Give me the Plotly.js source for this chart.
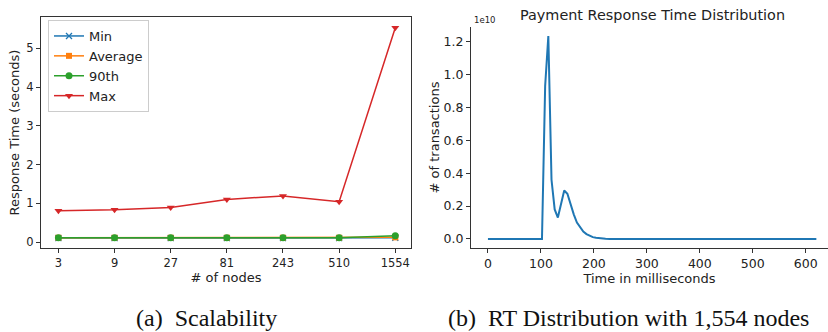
<!DOCTYPE html>
<html>
<head>
<meta charset="utf-8">
<script src="https://cdn.plot.ly/plotly-3.0.1.min.js"></script>
<style>
html,body{margin:0;padding:0;background:#fff;}
#chart{width:828px;height:332px;}
</style>
</head>
<body>
<div id="chart"></div>
<script>
// ---- Data: (a) Scalability ----
const nodes = ["3", "9", "27", "81", "243", "510", "1554"];
const rtMin = [0.10, 0.10, 0.10, 0.10, 0.10, 0.10, 0.11];
const rtAvg = [0.11, 0.11, 0.11, 0.11, 0.11, 0.11, 0.12];
const rt90 = [0.11, 0.11, 0.11, 0.11, 0.11, 0.11, 0.16];
const rtMax = [0.81, 0.83, 0.89, 1.10, 1.19, 1.04, 5.53];

// ---- Data: (b) RT distribution with 1,554 nodes ----
const timeMs = [0, 102, 108, 114, 120, 126, 132, 138, 144, 150, 156, 162, 168, 174, 180, 186, 192, 198, 204, 210, 216, 222, 230, 620];
const txCount = [0, 0, 0.93e10, 1.235e10, 0.36e10, 0.18e10, 0.13e10, 0.21e10, 0.295e10, 0.275e10, 0.21e10, 0.15e10, 0.10e10, 0.07e10, 0.045e10, 0.03e10, 0.018e10, 0.011e10, 0.007e10, 0.004e10, 0.002e10, 0.001e10, 0, 0];
const yTickVals = [0, 0.2e10, 0.4e10, 0.6e10, 0.8e10, 1.0e10, 1.2e10];
const yTickText = ["0.0", "0.2", "0.4", "0.6", "0.8", "1.0", "1.2"];

const C = {blue: "#1f77b4", orange: "#ff7f0e", green: "#2ca02c", red: "#d62728"};
const FONT = "DejaVu Sans, sans-serif";

const traces = [
  {x: nodes, y: rtMin, name: "Min", mode: "lines+markers", xaxis: "x", yaxis: "y",
   line: {color: C.blue, width: 1.5}, marker: {symbol: "x-thin", size: 6, color: C.blue, line: {color: C.blue, width: 1.3}}},
  {x: nodes, y: rtAvg, name: "Average", mode: "lines+markers", xaxis: "x", yaxis: "y",
   line: {color: C.orange, width: 1.5}, marker: {symbol: "square", size: 6, color: C.orange}},
  {x: nodes, y: rt90, name: "90th", mode: "lines+markers", xaxis: "x", yaxis: "y",
   line: {color: C.green, width: 1.5}, marker: {symbol: "circle", size: 7, color: C.green}},
  {x: nodes, y: rtMax, name: "Max", mode: "lines+markers", xaxis: "x", yaxis: "y",
   line: {color: C.red, width: 1.5}, marker: {symbol: "triangle-down", size: 7, color: C.red}},
  {x: timeMs, y: txCount, name: "RT", mode: "lines", xaxis: "x2", yaxis: "y2", showlegend: false,
   line: {color: C.blue, width: 2}}
];

const axBase = {showgrid: false, zeroline: false, showline: true, linecolor: "#333", linewidth: 1,
  ticks: "outside", ticklen: 4, tickwidth: 1, tickcolor: "#333",
  tickfont: {family: FONT, size: 11.5, color: "#222"}};
const rightTick = {family: FONT, size: 12.5, color: "#222"};

const layout = {
  width: 828, height: 332,
  margin: {l: 0, r: 0, t: 0, b: 0},
  paper_bgcolor: "#fff", plot_bgcolor: "#fff",
  font: {family: FONT, color: "#222"},
  showlegend: true,
  legend: {x: 48/828, y: 1 - 20/332, xanchor: "left", yanchor: "top",
    bgcolor: "rgba(255,255,255,0.9)", bordercolor: "#ccc", borderwidth: 1,
    font: {family: FONT, size: 13, color: "#222"}},
  xaxis: Object.assign({}, axBase, {domain: [41/828, 411/828], anchor: "y", type: "category",
    range: [-0.31, 6.28], mirror: true,
    title: {text: "# of nodes", font: {family: FONT, size: 13, color: "#222"}, standoff: 2}}),
  yaxis: Object.assign({}, axBase, {domain: [1 - 248/332, 1 - 17/332], anchor: "x",
    range: [-0.155, 5.81], tickvals: [0, 1, 2, 3, 4, 5], mirror: true,
    title: {text: "Response Time (seconds)", font: {family: FONT, size: 13, color: "#222"}, standoff: 3}}),
  xaxis2: Object.assign({}, axBase, {domain: [471/828, 1.0], anchor: "y2",
    range: [-32, 642], tickvals: [0, 100, 200, 300, 400, 500, 600], tickfont: rightTick,
    title: {text: "Time in milliseconds", font: {family: FONT, size: 13, color: "#222"}, standoff: 1}}),
  yaxis2: Object.assign({}, axBase, {domain: [1 - 248/332, 1 - 27/332], anchor: "x2",
    range: [-0.055e10, 1.29e10], tickvals: yTickVals, ticktext: yTickText, tickfont: rightTick,
    title: {text: "# of transactions", font: {family: FONT, size: 13, color: "#222"}, standoff: 1}}),
  annotations: [
    {text: "Payment Response Time Distribution", xref: "paper", yref: "paper",
     x: 652/828, y: 1 - 15/332, xanchor: "center", yanchor: "middle", showarrow: false,
     font: {family: FONT, size: 14.4, color: "#222"}},
    {text: "1e10", xref: "paper", yref: "paper", x: 472/828, y: 1 - 20/332,
     xanchor: "left", yanchor: "middle", showarrow: false, font: {family: FONT, size: 8.5, color: "#222"}},
    {text: "(a)  Scalability", xref: "paper", yref: "paper", x: 206/828, y: 1 - 318/332,
     xanchor: "center", yanchor: "middle", showarrow: false,
     font: {family: "Liberation Serif, serif", size: 24, color: "#111"}},
    {text: "(b)  RT Distribution with 1,554 nodes", xref: "paper", yref: "paper", x: 628/828, y: 1 - 318/332,
     xanchor: "center", yanchor: "middle", showarrow: false,
     font: {family: "Liberation Serif, serif", size: 24, color: "#111"}}
  ]
};

Plotly.newPlot("chart", traces, layout, {displayModeBar: false, staticPlot: true});
</script>
</body>
</html>
